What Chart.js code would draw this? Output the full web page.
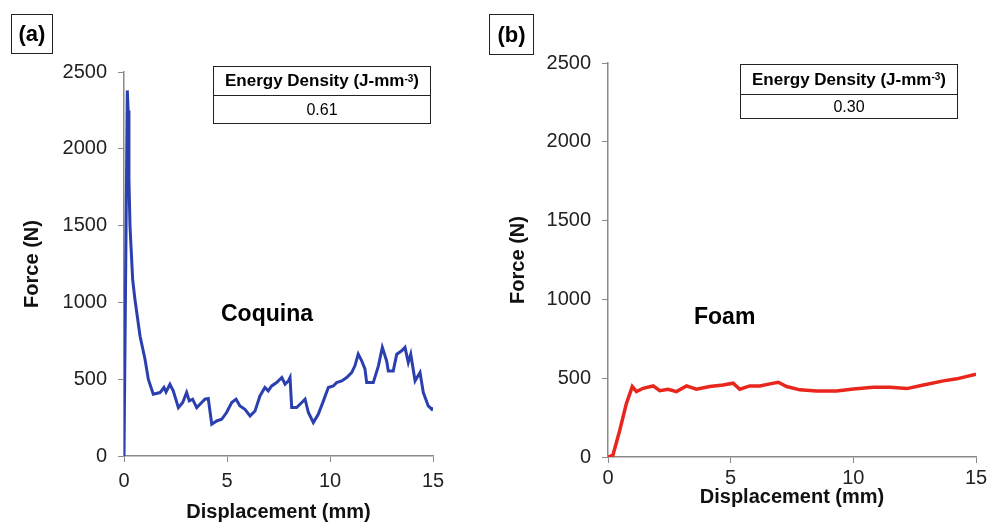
<!DOCTYPE html>
<html>
<head>
<meta charset="utf-8">
<script src="https://cdn.jsdelivr.net/npm/chart.js@4.4.1/dist/chart.umd.min.js"></script>
<style>
  body { margin: 0; background: #fff; font-family: "Liberation Sans", Arial, sans-serif; }
  #wrap { position: relative; width: 989px; height: 522px; overflow: hidden; }
  canvas { position: absolute; top: 0; }
  .tag { position: absolute; border: 1.5px solid #222; font-weight: bold; font-size: 22px;
         display: flex; align-items: center; justify-content: center; box-sizing: border-box; }
  .tbl { position: absolute; border: 1.5px solid #222; box-sizing: border-box; font-size: 16px; }
  .tbl div { display: flex; align-items: center; justify-content: center; box-sizing: border-box; }
  .tbl .hd { font-weight: bold; font-size: 17px; border-bottom: 1.5px solid #222; }
  .tbl sup { font-size: 10px; position: relative; top: -3px; }
  .note { position: absolute; font-weight: bold; font-size: 23px; }
</style>
</head>
<body>
<div id="wrap">
  <canvas id="chartA" width="489" height="522" style="left:0"></canvas>
  <canvas id="chartB" width="520" height="522" style="left:480px"></canvas>

  <div class="tag" style="left:11px;top:14px;width:42px;height:40px">(a)</div>
  <div class="tag" style="left:489px;top:14px;width:45px;height:41px">(b)</div>

  <div class="tbl" style="left:213px;top:66px;width:218px;height:58px">
    <div class="hd" style="height:29px">Energy Density (J-mm<sup>-3</sup>)</div>
    <div style="height:27px">0.61</div>
  </div>
  <div class="tbl" style="left:740px;top:64px;width:218px;height:55px">
    <div class="hd" style="height:30px">Energy Density (J-mm<sup>-3</sup>)</div>
    <div style="height:23px">0.30</div>
  </div>

  <div class="note" style="left:221px;top:300px">Coquina</div>
  <div class="note" style="left:694px;top:303px">Foam</div>
</div>
<script>
// coquina curve (a), displacement mm / force N
const coquinaX = [0, 0.16, 0.2, 0.24, 0.29, 0.42, 0.53, 0.78, 1.02, 1.18, 1.42, 1.75, 1.94, 2.04, 2.23, 2.39, 2.64, 2.85, 3.04, 3.17, 3.33, 3.53, 3.77, 3.93, 4.09, 4.26, 4.5, 4.74, 4.98, 5.23, 5.44, 5.63, 5.87, 6.12, 6.36, 6.6, 6.84, 7.0, 7.17, 7.41, 7.66, 7.82, 7.98, 8.06, 8.14, 8.38, 8.63, 8.79, 8.95, 9.19, 9.43, 9.68, 9.92, 10.16, 10.32, 10.57, 10.81, 11.05, 11.21, 11.37, 11.54, 11.7, 11.78, 12.1, 12.35, 12.54, 12.75, 12.83, 13.07, 13.24, 13.48, 13.64, 13.8, 13.92, 14.13, 14.37, 14.53, 14.77, 14.94, 15.0];
const coquinaY = [0, 2380, 2250, 1800, 1500, 1150, 1020, 780, 630, 500, 402, 413, 446, 417, 467, 424, 315, 348, 413, 359, 370, 315, 348, 370, 374, 207, 228, 239, 283, 348, 370, 326, 304, 261, 293, 391, 446, 424, 456, 478, 511, 467, 489, 511, 315, 315, 348, 370, 283, 218, 272, 359, 446, 456, 478, 489, 511, 543, 587, 663, 619, 565, 478, 478, 587, 707, 619, 554, 554, 663, 685, 707, 609, 663, 489, 543, 413, 326, 304, 315];

// foam curve (b)
const foamX = [0, 0.2, 0.48, 0.75, 0.99, 1.16, 1.43, 1.84, 2.11, 2.45, 2.79, 3.2, 3.6, 4.15, 4.69, 5.1, 5.37, 5.78, 6.19, 6.6, 6.94, 7.28, 7.82, 8.5, 9.32, 10.0, 10.82, 11.5, 12.18, 12.86, 13.67, 14.22, 15.0];
const foamY = [0, 11, 170, 340, 447, 415, 436, 451, 421, 430, 415, 451, 430, 447, 457, 468, 430, 451, 451, 464, 474, 447, 426, 419, 419, 432, 443, 443, 434, 457, 483, 496, 526];

const xTicksStep = 5;
const yTicksStep = 500;

function pts(xs, ys) {
  return xs.map((x, i) => ({x: x, y: ys[i]}));
}

function makeChart(id, xs, ys, color, width, geo) {
  const axisColor = '#8a8a8a';
  const tickFont = { size: 20, family: '"Liberation Sans", Arial' };
  const titleFont = { size: 20, weight: 'bold', lineHeight: 1, family: '"Liberation Sans", Arial' };
  return new Chart(document.getElementById(id), {
    type: 'line',
    data: {
      datasets: [{
        data: pts(xs, ys),
        borderColor: color,
        borderWidth: width,
        pointRadius: 0,
        tension: 0,
        fill: false
      }]
    },
    options: {
      responsive: false,
      animation: false,
      plugins: { legend: { display: false }, tooltip: { enabled: false } },
      layout: { padding: { left: geo.padLeft, top: geo.top, right: geo.padRight, bottom: 0 } },
      scales: {
        x: {
          type: 'linear', min: 0, max: 15,
          ticks: { stepSize: xTicksStep, color: '#222', padding: geo.xPad, font: tickFont, callback: v => v },
          grid: { drawOnChartArea: false, color: axisColor, tickLength: 6 },
          border: { color: axisColor, width: 1.5 },
          title: { display: true, text: 'Displacement (mm)', color: '#111', padding: { top: 0, bottom: geo.xTitlePad },
                   font: titleFont },
          afterFit: s => { s.height = geo.xH; }
        },
        y: {
          min: 0, max: 2500,
          ticks: { stepSize: yTicksStep, color: '#222', padding: 11, font: tickFont, callback: v => v },
          grid: { drawOnChartArea: false, color: axisColor, tickLength: 6 },
          border: { color: axisColor, width: 1.5 },
          title: { display: true, text: 'Force (N)', color: '#111', padding: 0, font: titleFont },
          afterFit: s => { s.width = geo.yW; }
        }
      }
    }
  });
}

makeChart('chartA', coquinaX, coquinaY, '#2c3fae', 3,
  { padLeft: 22, yW: 102, top: 72, padRight: 56, xH: 66, xPad: 7, xTitlePad: 0 });
makeChart('chartB', foamX, foamY, '#e8261c', 3.5,
  { padLeft: 28, yW: 100, top: 63, padRight: 24, xH: 65, xPad: 3, xTitlePad: 15 });
</script>
</body>
</html>
